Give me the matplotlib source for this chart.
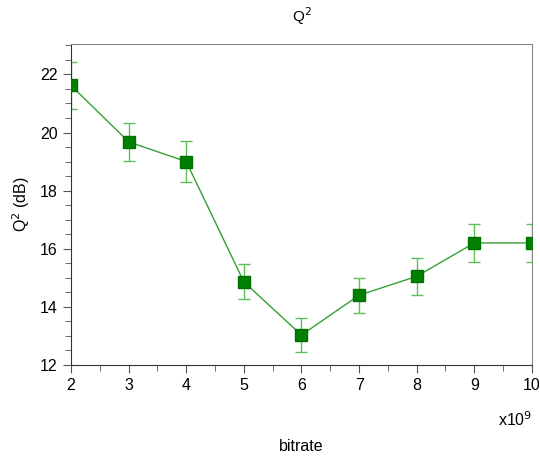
import matplotlib
matplotlib.use("Agg")
import matplotlib.pyplot as plt
from matplotlib.ticker import MultipleLocator

plt.rcParams["font.family"] = ["Liberation Sans", "DejaVu Sans"]

# data
bitrate = [2, 3, 4, 5, 6, 7, 8, 9, 10]
q2 = [21.62, 19.68, 19.0, 14.86, 13.03, 14.4, 15.05, 16.2, 16.2]
q2_err = [0.8, 0.65, 0.72, 0.6, 0.6, 0.6, 0.63, 0.64, 0.65]

fig = plt.figure(figsize=(5.4, 4.62), dpi=100)
ax = fig.add_axes([0.1315, 0.21, 0.8535, 0.695])

ax.errorbar(bitrate, q2, yerr=q2_err, fmt="none", ecolor="#5cbf5c",
            elinewidth=1.0, capsize=4, capthick=1.0, zorder=2)
ax.plot(bitrate, q2, color="#33a033", lw=1.0, zorder=3)
ax.plot(bitrate, q2, ls="none", marker="s", ms=8, color="#008000",
        mec="#007000", zorder=4)

ax.set_xlim(2, 10)
ax.set_ylim(12, 23.05)
ax.xaxis.set_major_locator(MultipleLocator(1))
ax.xaxis.set_minor_locator(MultipleLocator(0.5))
ax.yaxis.set_major_locator(MultipleLocator(2))
ax.yaxis.set_minor_locator(MultipleLocator(0.5))
ax.tick_params(which="both", direction="out", colors="#555555",
               labelcolor="black", labelsize=11.5)
ax.tick_params(which="major", length=6)
ax.tick_params(which="minor", length=4)

for s in ["left", "bottom"]:
    ax.spines[s].set_color("#333333")
for s in ["top", "right"]:
    ax.spines[s].set_color("#888888")

ax.set_title("Q$^2$", fontsize=11, pad=16)
ax.set_ylabel("Q$^2$ (dB)", fontsize=11.5, labelpad=6)
ax.set_xlabel("bitrate", fontsize=11.5, labelpad=33)
ax.text(1.0, -0.14, "x10$^9$", transform=ax.transAxes, ha="right",
        va="top", fontsize=11.5)

fig.savefig("out.png", dpi=100, facecolor="white")
